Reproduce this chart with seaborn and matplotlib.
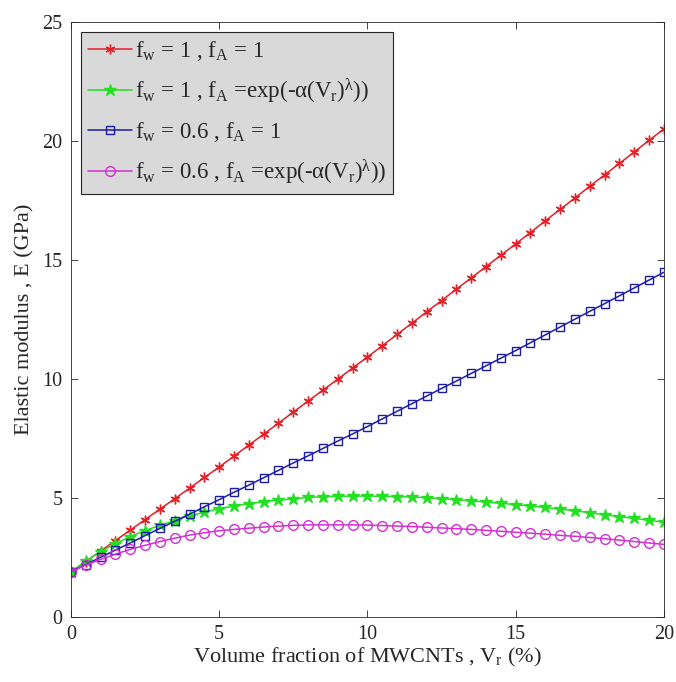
import numpy as np
import pandas as pd
import matplotlib
matplotlib.use("Agg")
import matplotlib.pyplot as plt
import seaborn as sns

vr = [0.0, 0.5, 1.0, 1.5, 2.0, 2.5, 3.0, 3.5, 4.0, 4.5, 5.0, 5.5, 6.0, 6.5, 7.0, 7.5,
      8.0, 8.5, 9.0, 9.5, 10.0, 10.5, 11.0, 11.5, 12.0, 12.5, 13.0, 13.5, 14.0, 14.5,
      15.0, 15.5, 16.0, 16.5, 17.0, 17.5, 18.0, 18.5, 19.0, 19.5, 20.0]

e_fw1_fa1 = [1.90, 2.33, 2.77, 3.21, 3.65, 4.09, 4.53, 4.97, 5.41, 5.86, 6.30, 6.76,
             7.22, 7.68, 8.14, 8.61, 9.07, 9.53, 9.99, 10.46, 10.92, 11.39, 11.87,
             12.34, 12.82, 13.29, 13.77, 14.24, 14.72, 15.19, 15.67, 16.15, 16.64,
             17.12, 17.60, 18.09, 18.57, 19.05, 19.53, 20.02, 20.50]

e_fw1_faexp = [1.90, 2.35, 2.75, 3.08, 3.38, 3.63, 3.85, 4.05, 4.25, 4.40, 4.55, 4.66,
               4.76, 4.84, 4.91, 4.96, 5.02, 5.05, 5.07, 5.08, 5.08, 5.07, 5.06, 5.04,
               5.01, 4.97, 4.93, 4.88, 4.83, 4.78, 4.72, 4.66, 4.60, 4.53, 4.46, 4.38,
               4.30, 4.22, 4.14, 4.06, 3.98]

e_fw06_fa1 = [1.90, 2.20, 2.51, 2.81, 3.11, 3.42, 3.72, 4.02, 4.32, 4.63, 4.93, 5.24,
              5.54, 5.85, 6.16, 6.47, 6.77, 7.08, 7.39, 7.69, 8.00, 8.32, 8.64, 8.96,
              9.28, 9.60, 9.91, 10.23, 10.55, 10.87, 11.19, 11.52, 11.85, 12.18, 12.51,
              12.84, 13.16, 13.49, 13.82, 14.15, 14.48]

e_fw06_faexp = [1.90, 2.18, 2.42, 2.64, 2.84, 3.01, 3.17, 3.31, 3.44, 3.54, 3.62, 3.68,
                3.73, 3.78, 3.82, 3.85, 3.87, 3.87, 3.87, 3.87, 3.86, 3.84, 3.82, 3.80,
                3.77, 3.74, 3.71, 3.68, 3.64, 3.60, 3.56, 3.52, 3.48, 3.43, 3.39, 3.34,
                3.29, 3.23, 3.17, 3.11, 3.05]

labels = [
    r'$\mathregular{f_w}$ = 1 , $\mathregular{f_A}$ = 1',
    r'$\mathregular{f_w}$ = 1 , $\mathregular{f_A}$ =exp(-α($\mathregular{V_r}$)$^{\mathregular{λ}}$))',
    r'$\mathregular{f_w}$ = 0.6 , $\mathregular{f_A}$ = 1',
    r'$\mathregular{f_w}$ = 0.6 , $\mathregular{f_A}$ =exp(-α($\mathregular{V_r}$)$^{\mathregular{λ}}$))',
]
series = [e_fw1_fa1, e_fw1_faexp, e_fw06_fa1, e_fw06_faexp]

sns.set_style("ticks")
plt.rcParams['font.family'] = ['Liberation Serif', 'DejaVu Serif']
plt.rcParams['mathtext.fontset'] = 'custom'
plt.rcParams['mathtext.rm'] = 'Liberation Serif'
plt.rcParams['mathtext.it'] = 'Liberation Serif:italic'

colors = ['#e61e25', '#22e022', '#1c1ca8', '#d42ed4']
markers = [(6, 2, 0), '*', 's', 'o']
msizes = [7, 9, 6, 7]
fills = [True, True, False, False]

fig = plt.figure(figsize=(6.76, 6.82), dpi=100)
ax = fig.add_axes([0.105, 0.0953, 0.877, 0.8727])

for lab, ys, c, m, ms, f in zip(labels, series, colors, markers, msizes, fills):
    df = pd.DataFrame({'Vr': vr, 'E': ys})
    sns.lineplot(data=df, x='Vr', y='E', ax=ax, color=c, marker=m, markersize=ms,
                 markerfacecolor=(c if f else 'none'), markeredgecolor=c,
                 markeredgewidth=1.0, linewidth=1.1, label=lab)

ax.set_xlim(0, 20)
ax.set_ylim(0, 25)
ax.set_xticks([0, 5, 10, 15, 20])
ax.set_yticks([0, 5, 10, 15, 20, 25])
ax.tick_params(direction='in', top=True, right=True, labelsize=14.5, length=5,
               width=0.6, colors='#262626', pad=6)
for s in ax.spines.values():
    s.set_linewidth(0.6)
    s.set_color('#262626')
    s.set_visible(True)

ax.set_xlabel(r'Volume fraction of MWCNTs , $\mathregular{V_r}$ (%)', fontsize=16,
              color='#262626', labelpad=1)
ax.set_ylabel('Elastic modulus , E (GPa)', fontsize=16, color='#262626', labelpad=6)

leg = ax.legend(loc='upper left', fontsize=16.5, frameon=True, fancybox=False,
                borderpad=0.3, labelspacing=0.6, handlelength=1.9,
                handletextpad=0.15, borderaxespad=0.45)
leg.get_frame().set_facecolor('#d9d9d9')
leg.get_frame().set_edgecolor('#262626')
leg.get_frame().set_linewidth(0.8)
leg.get_frame().set_alpha(1)

fig.savefig('out.png', dpi=100)
